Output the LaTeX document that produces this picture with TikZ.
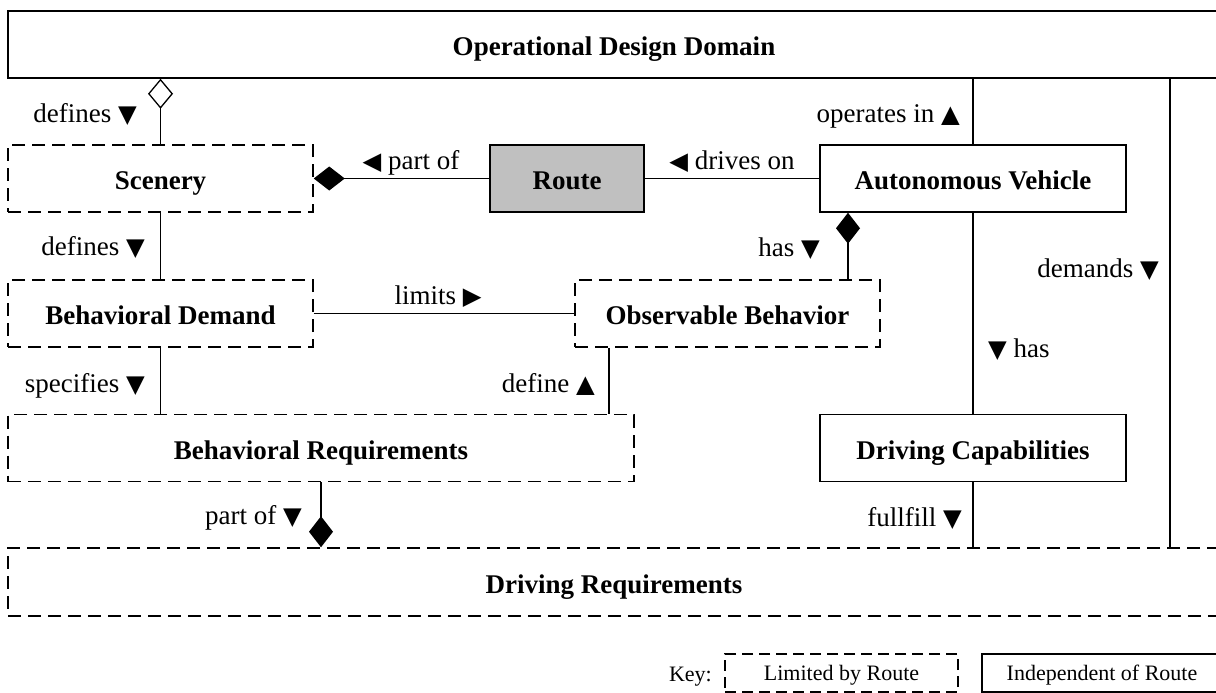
\documentclass[tikz,border=0pt]{standalone}
\usepackage{fontspec}
\setmainfont{Liberation Serif}
\newfontfamily\trifont[Scale=0.9]{DejaVu Sans}
\usetikzlibrary{arrows.meta}
% direction marks used in the association labels
\newcommand\tdown{{\trifont ▼}}
\newcommand\tup{{\trifont ▲}}
\newcommand\tleft{{\trifont ◀}}
\newcommand\tright{{\trifont ▶}}
\begin{document}
\begin{tikzpicture}[x=1pt,y=-1pt,
  box/.style={draw, line width=1.5pt, inner sep=0pt, minimum height=67pt,
    text height=22pt, text depth=0pt,
    font=\fontsize{27}{31}\selectfont\bfseries},
  limbox/.style={box, dash pattern=on 13pt off 7pt},
  keybox/.style={draw, line width=1.3pt, inner sep=0pt, minimum height=38pt,
    text height=15pt, text depth=0pt,
    font=\fontsize{22}{26}\selectfont},
  link/.style={line width=1.3pt},
  lbl/.style={inner sep=0pt, text height=18pt, text depth=0pt,
    font=\fontsize{27}{31}\selectfont},
  comp/.style={{Diamond[length=31pt,width=24pt]}-},
  aggr/.style={{Diamond[open,length=30pt,width=25pt]}-},
]
\fill[white] (0,0) rectangle (1216,693);
\useasboundingbox (0,0) rectangle (1216,693);

% classes
\node[box, minimum width=1212pt] (odd) at (614,44.5) {Operational Design Domain};
\node[limbox, minimum width=305pt] (scen) at (160.5,178.5) {Scenery};
\node[box, minimum width=154pt, fill={rgb,255:red,192;green,192;blue,192}] (route) at (567,178.5) {Route};
\node[box, minimum width=306pt] (av) at (973,178.5) {Autonomous Vehicle};
\node[limbox, minimum width=305pt] (bd) at (160.5,313.5) {Behavioral Demand};
\node[limbox, minimum width=305pt] (ob) at (727.5,313.5) {Observable Behavior};
\node[limbox, minimum width=626pt] (br) at (321,448) {Behavioral Requirements};
\node[box, minimum width=306pt] (dc) at (973,448) {Driving Capabilities};
\node[limbox, minimum width=1212pt, minimum height=68pt] (dr) at (614,582) {Driving Requirements};

% columns of the connectors that leave a box off its centre
\coordinate (dcol) at (1170,0);
\coordinate (hcol) at (848,0);
\coordinate (fcol) at (609,0);

% associations
\draw[link, aggr] (odd.south -| scen.north) -- (scen.north);
\draw[link, comp] (scen.east) -- (route.west);
\draw[link] (route.east) -- (av.west);
\draw[link] (av.north) -- (av.north |- odd.south);
\draw[link] (odd.south -| dcol) -- (dr.north -| dcol);
\draw[link, comp] (av.south -| hcol) -- (ob.north -| hcol);
\draw[link] (scen.south) -- (bd.north);
\draw[link] (bd.east) -- (ob.west);
\draw[link] (bd.south) -- (bd.south |- br.north);
\draw[link] (ob.south -| fcol) -- (br.north -| fcol);
\draw[link, comp] (br.south |- dr.north) -- (br.south);
\draw[link] (av.south) -- (dc.north);
\draw[link] (dc.south) -- (dc.south |- dr.north);

% association labels
\node[lbl, anchor=east] (l1) at (137,113) {defines \tdown};
\node[lbl] (l2) at (411,160) {\tleft\ part of};
\node[lbl] (l3) at (732,160) {\tleft\ drives on};
\node[lbl, anchor=east] (l4) at (960,113) {operates in \tup};
\node[lbl, anchor=east] (l5) at (145,246) {defines \tdown};
\node[lbl, anchor=east] (l6) at (820,247) {has \tdown};
\node[lbl, anchor=east] (l7) at (1159,268) {demands \tdown};
\node[lbl] (l8) at (438,295) {limits \tright};
\node[lbl, anchor=west] (l9) at (988,348) {\tdown\ has};
\node[lbl, anchor=east] (l10) at (145,383) {specifies \tdown};
\node[lbl, anchor=east] (l11) at (595,383) {define \tup};
\node[lbl, anchor=east] (l12) at (302,515) {part of \tdown};
\node[lbl, anchor=east] (l13) at (962,517) {fullfill \tdown};

% key
\node[inner sep=0pt, text height=15pt, text depth=0pt, font=\fontsize{22}{26}\selectfont, anchor=east] (key) at (712,674) {Key:};
\node[keybox, dash pattern=on 11pt off 6pt, minimum width=233pt] (klim) at (841.5,673) {Limited by Route};
\node[keybox, minimum width=240pt] (kind) at (1102,673) {Independent of Route};
\end{tikzpicture}
\end{document}
